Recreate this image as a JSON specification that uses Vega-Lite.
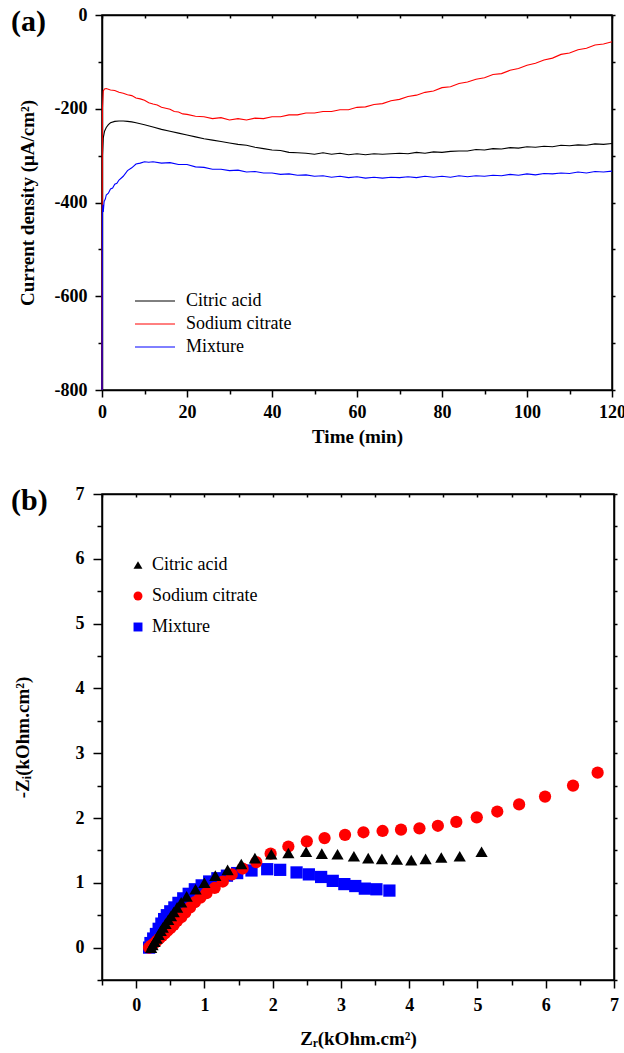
{
  "$schema": "https://vega.github.io/schema/vega-lite/v6.json",
  "padding": {"left": 10, "top": 5, "right": 2, "bottom": 2},
  "autosize": {"type": "pad"},
  "background": "white",
  "spacing": 104,
  "bounds": "flush",
  "resolve": {"scale": {"color": "independent", "shape": "independent"}, "legend": {"color": "independent", "shape": "independent"}},
  "config": {
    "font": "Liberation Serif",
    "view": {"stroke": "black", "strokeWidth": 1.5},
    "axis": {"grid": false, "domainColor": "black", "domainWidth": 1.5, "tickColor": "black", "tickWidth": 1.5, "labelFont": "Liberation Serif", "labelFontSize": 18, "labelFontWeight": "bold", "labelColor": "black", "titleFont": "Liberation Serif", "titleFontSize": 19, "titleFontWeight": "bold", "titleColor": "black", "labelFlush": false, "labelOverlap": false, "labelBound": false},
    "legend": {"labelFont": "Liberation Serif", "labelFontSize": 18, "labelColor": "black", "padding": 0, "title": null},
    "title": {"font": "Liberation Serif", "fontSize": 30, "fontWeight": "bold", "color": "black", "anchor": "start", "frame": "group", "offset": 0, "dx": -91, "dy": 35, "baseline": "alphabetic"}
  },
  "vconcat": [
    {
      "width": 510,
      "height": 375,
      "title": {"text": "(a)"},
      "data": {"values": [
        {"series": "Citric acid", "time": 0, "current": -800},
        {"series": "Citric acid", "time": 0.1, "current": -300},
        {"series": "Citric acid", "time": 0.3, "current": -262},
        {"series": "Citric acid", "time": 0.6, "current": -248},
        {"series": "Citric acid", "time": 1, "current": -240},
        {"series": "Citric acid", "time": 1.5, "current": -234},
        {"series": "Citric acid", "time": 2, "current": -230},
        {"series": "Citric acid", "time": 3, "current": -227},
        {"series": "Citric acid", "time": 4, "current": -226},
        {"series": "Citric acid", "time": 5, "current": -226},
        {"series": "Citric acid", "time": 6, "current": -227},
        {"series": "Citric acid", "time": 7, "current": -228},
        {"series": "Citric acid", "time": 8, "current": -230},
        {"series": "Citric acid", "time": 10, "current": -234},
        {"series": "Citric acid", "time": 12, "current": -239},
        {"series": "Citric acid", "time": 14, "current": -244},
        {"series": "Citric acid", "time": 16, "current": -248},
        {"series": "Citric acid", "time": 18, "current": -252},
        {"series": "Citric acid", "time": 20, "current": -256},
        {"series": "Citric acid", "time": 22, "current": -260},
        {"series": "Citric acid", "time": 24, "current": -264},
        {"series": "Citric acid", "time": 26, "current": -267},
        {"series": "Citric acid", "time": 28, "current": -270},
        {"series": "Citric acid", "time": 30, "current": -273},
        {"series": "Citric acid", "time": 32, "current": -276},
        {"series": "Citric acid", "time": 34, "current": -278},
        {"series": "Citric acid", "time": 36, "current": -282},
        {"series": "Citric acid", "time": 38, "current": -285},
        {"series": "Citric acid", "time": 40, "current": -288},
        {"series": "Citric acid", "time": 42, "current": -289},
        {"series": "Citric acid", "time": 44, "current": -293},
        {"series": "Citric acid", "time": 46, "current": -294},
        {"series": "Citric acid", "time": 48, "current": -295},
        {"series": "Citric acid", "time": 50, "current": -297},
        {"series": "Citric acid", "time": 52, "current": -294},
        {"series": "Citric acid", "time": 54, "current": -297},
        {"series": "Citric acid", "time": 56, "current": -295},
        {"series": "Citric acid", "time": 58, "current": -298},
        {"series": "Citric acid", "time": 60, "current": -296},
        {"series": "Citric acid", "time": 62, "current": -298},
        {"series": "Citric acid", "time": 64, "current": -296},
        {"series": "Citric acid", "time": 66, "current": -297},
        {"series": "Citric acid", "time": 68, "current": -296},
        {"series": "Citric acid", "time": 70, "current": -295},
        {"series": "Citric acid", "time": 72, "current": -296},
        {"series": "Citric acid", "time": 74, "current": -293},
        {"series": "Citric acid", "time": 76, "current": -295},
        {"series": "Citric acid", "time": 78, "current": -292},
        {"series": "Citric acid", "time": 80, "current": -293},
        {"series": "Citric acid", "time": 82, "current": -291},
        {"series": "Citric acid", "time": 84, "current": -290},
        {"series": "Citric acid", "time": 86, "current": -290},
        {"series": "Citric acid", "time": 88, "current": -287},
        {"series": "Citric acid", "time": 90, "current": -288},
        {"series": "Citric acid", "time": 92, "current": -285},
        {"series": "Citric acid", "time": 94, "current": -286},
        {"series": "Citric acid", "time": 96, "current": -283},
        {"series": "Citric acid", "time": 98, "current": -284},
        {"series": "Citric acid", "time": 100, "current": -281},
        {"series": "Citric acid", "time": 102, "current": -282},
        {"series": "Citric acid", "time": 104, "current": -280},
        {"series": "Citric acid", "time": 106, "current": -281},
        {"series": "Citric acid", "time": 108, "current": -278},
        {"series": "Citric acid", "time": 110, "current": -279},
        {"series": "Citric acid", "time": 112, "current": -277},
        {"series": "Citric acid", "time": 114, "current": -278},
        {"series": "Citric acid", "time": 116, "current": -275},
        {"series": "Citric acid", "time": 118, "current": -276},
        {"series": "Citric acid", "time": 120, "current": -274},
        {"series": "Sodium citrate", "time": 0, "current": -800},
        {"series": "Sodium citrate", "time": 0.05, "current": -430},
        {"series": "Sodium citrate", "time": 0.1, "current": -200},
        {"series": "Sodium citrate", "time": 0.3, "current": -162},
        {"series": "Sodium citrate", "time": 0.6, "current": -158},
        {"series": "Sodium citrate", "time": 1, "current": -157},
        {"series": "Sodium citrate", "time": 2, "current": -160},
        {"series": "Sodium citrate", "time": 3, "current": -161},
        {"series": "Sodium citrate", "time": 4, "current": -165},
        {"series": "Sodium citrate", "time": 5, "current": -167},
        {"series": "Sodium citrate", "time": 6, "current": -170},
        {"series": "Sodium citrate", "time": 7, "current": -172},
        {"series": "Sodium citrate", "time": 8, "current": -177},
        {"series": "Sodium citrate", "time": 9, "current": -179},
        {"series": "Sodium citrate", "time": 10, "current": -182},
        {"series": "Sodium citrate", "time": 11, "current": -187},
        {"series": "Sodium citrate", "time": 12, "current": -190},
        {"series": "Sodium citrate", "time": 13, "current": -192},
        {"series": "Sodium citrate", "time": 14, "current": -197},
        {"series": "Sodium citrate", "time": 15, "current": -199},
        {"series": "Sodium citrate", "time": 16, "current": -201},
        {"series": "Sodium citrate", "time": 17, "current": -206},
        {"series": "Sodium citrate", "time": 18, "current": -207},
        {"series": "Sodium citrate", "time": 19, "current": -211},
        {"series": "Sodium citrate", "time": 20, "current": -212},
        {"series": "Sodium citrate", "time": 22, "current": -216},
        {"series": "Sodium citrate", "time": 24, "current": -217},
        {"series": "Sodium citrate", "time": 26, "current": -221},
        {"series": "Sodium citrate", "time": 28, "current": -219},
        {"series": "Sodium citrate", "time": 30, "current": -224},
        {"series": "Sodium citrate", "time": 32, "current": -221},
        {"series": "Sodium citrate", "time": 34, "current": -224},
        {"series": "Sodium citrate", "time": 36, "current": -220},
        {"series": "Sodium citrate", "time": 38, "current": -221},
        {"series": "Sodium citrate", "time": 40, "current": -217},
        {"series": "Sodium citrate", "time": 42, "current": -217},
        {"series": "Sodium citrate", "time": 44, "current": -213},
        {"series": "Sodium citrate", "time": 46, "current": -213},
        {"series": "Sodium citrate", "time": 48, "current": -209},
        {"series": "Sodium citrate", "time": 50, "current": -209},
        {"series": "Sodium citrate", "time": 52, "current": -206},
        {"series": "Sodium citrate", "time": 54, "current": -206},
        {"series": "Sodium citrate", "time": 56, "current": -202},
        {"series": "Sodium citrate", "time": 58, "current": -202},
        {"series": "Sodium citrate", "time": 60, "current": -197},
        {"series": "Sodium citrate", "time": 62, "current": -196},
        {"series": "Sodium citrate", "time": 64, "current": -191},
        {"series": "Sodium citrate", "time": 66, "current": -189},
        {"series": "Sodium citrate", "time": 68, "current": -183},
        {"series": "Sodium citrate", "time": 70, "current": -180},
        {"series": "Sodium citrate", "time": 72, "current": -174},
        {"series": "Sodium citrate", "time": 74, "current": -171},
        {"series": "Sodium citrate", "time": 76, "current": -165},
        {"series": "Sodium citrate", "time": 78, "current": -162},
        {"series": "Sodium citrate", "time": 80, "current": -155},
        {"series": "Sodium citrate", "time": 82, "current": -153},
        {"series": "Sodium citrate", "time": 84, "current": -146},
        {"series": "Sodium citrate", "time": 86, "current": -143},
        {"series": "Sodium citrate", "time": 88, "current": -137},
        {"series": "Sodium citrate", "time": 90, "current": -134},
        {"series": "Sodium citrate", "time": 92, "current": -127},
        {"series": "Sodium citrate", "time": 94, "current": -125},
        {"series": "Sodium citrate", "time": 96, "current": -118},
        {"series": "Sodium citrate", "time": 98, "current": -114},
        {"series": "Sodium citrate", "time": 100, "current": -107},
        {"series": "Sodium citrate", "time": 102, "current": -103},
        {"series": "Sodium citrate", "time": 104, "current": -96},
        {"series": "Sodium citrate", "time": 106, "current": -92},
        {"series": "Sodium citrate", "time": 108, "current": -84},
        {"series": "Sodium citrate", "time": 110, "current": -81},
        {"series": "Sodium citrate", "time": 112, "current": -74},
        {"series": "Sodium citrate", "time": 114, "current": -71},
        {"series": "Sodium citrate", "time": 116, "current": -64},
        {"series": "Sodium citrate", "time": 118, "current": -62},
        {"series": "Sodium citrate", "time": 120, "current": -57},
        {"series": "Mixture", "time": 0, "current": -800},
        {"series": "Mixture", "time": 0.1, "current": -425},
        {"series": "Mixture", "time": 0.2, "current": -405},
        {"series": "Mixture", "time": 0.3, "current": -420},
        {"series": "Mixture", "time": 0.5, "current": -398},
        {"series": "Mixture", "time": 0.8, "current": -392},
        {"series": "Mixture", "time": 1, "current": -384},
        {"series": "Mixture", "time": 1.5, "current": -380},
        {"series": "Mixture", "time": 2, "current": -371},
        {"series": "Mixture", "time": 2.5, "current": -369},
        {"series": "Mixture", "time": 3, "current": -361},
        {"series": "Mixture", "time": 3.5, "current": -359},
        {"series": "Mixture", "time": 4, "current": -352},
        {"series": "Mixture", "time": 5, "current": -344},
        {"series": "Mixture", "time": 6, "current": -332},
        {"series": "Mixture", "time": 7, "current": -326},
        {"series": "Mixture", "time": 8, "current": -318},
        {"series": "Mixture", "time": 9, "current": -316},
        {"series": "Mixture", "time": 10, "current": -313},
        {"series": "Mixture", "time": 11, "current": -314},
        {"series": "Mixture", "time": 12, "current": -313},
        {"series": "Mixture", "time": 14, "current": -316},
        {"series": "Mixture", "time": 16, "current": -315},
        {"series": "Mixture", "time": 18, "current": -319},
        {"series": "Mixture", "time": 20, "current": -319},
        {"series": "Mixture", "time": 22, "current": -324},
        {"series": "Mixture", "time": 24, "current": -325},
        {"series": "Mixture", "time": 26, "current": -329},
        {"series": "Mixture", "time": 28, "current": -329},
        {"series": "Mixture", "time": 30, "current": -332},
        {"series": "Mixture", "time": 32, "current": -331},
        {"series": "Mixture", "time": 34, "current": -335},
        {"series": "Mixture", "time": 36, "current": -334},
        {"series": "Mixture", "time": 38, "current": -337},
        {"series": "Mixture", "time": 40, "current": -337},
        {"series": "Mixture", "time": 42, "current": -340},
        {"series": "Mixture", "time": 44, "current": -339},
        {"series": "Mixture", "time": 46, "current": -342},
        {"series": "Mixture", "time": 48, "current": -341},
        {"series": "Mixture", "time": 50, "current": -344},
        {"series": "Mixture", "time": 52, "current": -343},
        {"series": "Mixture", "time": 54, "current": -346},
        {"series": "Mixture", "time": 56, "current": -344},
        {"series": "Mixture", "time": 58, "current": -347},
        {"series": "Mixture", "time": 60, "current": -345},
        {"series": "Mixture", "time": 62, "current": -348},
        {"series": "Mixture", "time": 64, "current": -346},
        {"series": "Mixture", "time": 66, "current": -348},
        {"series": "Mixture", "time": 68, "current": -346},
        {"series": "Mixture", "time": 70, "current": -347},
        {"series": "Mixture", "time": 72, "current": -345},
        {"series": "Mixture", "time": 74, "current": -347},
        {"series": "Mixture", "time": 76, "current": -344},
        {"series": "Mixture", "time": 78, "current": -346},
        {"series": "Mixture", "time": 80, "current": -344},
        {"series": "Mixture", "time": 82, "current": -346},
        {"series": "Mixture", "time": 84, "current": -343},
        {"series": "Mixture", "time": 86, "current": -345},
        {"series": "Mixture", "time": 88, "current": -343},
        {"series": "Mixture", "time": 90, "current": -344},
        {"series": "Mixture", "time": 92, "current": -342},
        {"series": "Mixture", "time": 94, "current": -343},
        {"series": "Mixture", "time": 96, "current": -340},
        {"series": "Mixture", "time": 98, "current": -342},
        {"series": "Mixture", "time": 100, "current": -339},
        {"series": "Mixture", "time": 102, "current": -341},
        {"series": "Mixture", "time": 104, "current": -338},
        {"series": "Mixture", "time": 106, "current": -339},
        {"series": "Mixture", "time": 108, "current": -337},
        {"series": "Mixture", "time": 110, "current": -338},
        {"series": "Mixture", "time": 112, "current": -335},
        {"series": "Mixture", "time": 114, "current": -337},
        {"series": "Mixture", "time": 116, "current": -334},
        {"series": "Mixture", "time": 118, "current": -335},
        {"series": "Mixture", "time": 120, "current": -333}
      ]},
      "layer": [
        {
          "mark": {"type": "line", "strokeWidth": 1.1},
          "encoding": {
            "x": {"field": "time", "type": "quantitative", "scale": {"domain": [0, 120], "nice": false, "zero": false},
              "axis": {"title": "Time (min)", "values": [0, 10, 20, 30, 40, 50, 60, 70, 80, 90, 100, 110, 120],
                "labelExpr": "datum.value % 20 === 0 ? '' + datum.value : ''",
                "tickSize": {"condition": {"test": "datum.value % 20 === 0", "value": 7}, "value": 4},
                "labelPadding": 6, "titlePadding": 6}},
            "y": {"field": "current", "type": "quantitative", "scale": {"domain": [-800, 0], "nice": false, "zero": false},
              "axis": {"title": "Current density (μA/cm²)", "values": [-800, -700, -600, -500, -400, -300, -200, -100, 0],
                "labelExpr": "datum.value % 200 === 0 ? '' + datum.value : ''",
                "tickSize": {"condition": {"test": "datum.value % 200 === 0", "value": 7}, "value": 4},
                "labelPadding": 8, "titlePadding": 17}},
            "color": {"field": "series", "type": "nominal",
              "scale": {"domain": ["Citric acid", "Sodium citrate", "Mixture"], "range": ["#000000", "#ff0000", "#0000ff"]},
              "legend": {"orient": "none", "legendX": 44, "legendY": 277, "symbolType": "M-4,0H4", "symbolSize": 100, "symbolStrokeWidth": 1, "labelOffset": 22, "rowPadding": 5}}
          }
        },
        {
          "mark": {"type": "line", "opacity": 0},
          "encoding": {
            "x": {"field": "time", "type": "quantitative", "axis": {"orient": "top", "labels": false, "title": null, "values": [0, 10, 20, 30, 40, 50, 60, 70, 80, 90, 100, 110, 120], "tickSize": -3}},
            "y": {"field": "current", "type": "quantitative", "axis": {"orient": "right", "labels": false, "title": null, "values": [-800, -700, -600, -500, -400, -300, -200, -100, 0], "tickSize": 3}},
            "detail": {"field": "series"}
          }
        }
      ],
      "resolve": {"axis": {"x": "independent", "y": "independent"}}
    },
    {
      "width": 512,
      "height": 486,
      "title": {"text": "(b)"},
      "data": {"values": [
        {"series": "Mixture", "zr": 0.19, "zi": 0.0},
        {"series": "Mixture", "zr": 0.21, "zi": 0.07},
        {"series": "Mixture", "zr": 0.25, "zi": 0.14},
        {"series": "Mixture", "zr": 0.29, "zi": 0.21},
        {"series": "Mixture", "zr": 0.33, "zi": 0.29},
        {"series": "Mixture", "zr": 0.37, "zi": 0.37},
        {"series": "Mixture", "zr": 0.41, "zi": 0.44},
        {"series": "Mixture", "zr": 0.45, "zi": 0.50},
        {"series": "Mixture", "zr": 0.50, "zi": 0.56},
        {"series": "Mixture", "zr": 0.56, "zi": 0.62},
        {"series": "Mixture", "zr": 0.62, "zi": 0.69},
        {"series": "Mixture", "zr": 0.69, "zi": 0.76},
        {"series": "Mixture", "zr": 0.77, "zi": 0.83},
        {"series": "Mixture", "zr": 0.86, "zi": 0.90},
        {"series": "Mixture", "zr": 0.96, "zi": 0.96},
        {"series": "Mixture", "zr": 1.07, "zi": 1.02},
        {"series": "Mixture", "zr": 1.19, "zi": 1.07},
        {"series": "Mixture", "zr": 1.33, "zi": 1.11},
        {"series": "Mixture", "zr": 1.48, "zi": 1.15},
        {"series": "Mixture", "zr": 1.69, "zi": 1.19},
        {"series": "Mixture", "zr": 1.92, "zi": 1.21},
        {"series": "Mixture", "zr": 2.11, "zi": 1.20},
        {"series": "Mixture", "zr": 2.35, "zi": 1.16},
        {"series": "Mixture", "zr": 2.53, "zi": 1.13},
        {"series": "Mixture", "zr": 2.71, "zi": 1.09},
        {"series": "Mixture", "zr": 2.88, "zi": 1.03},
        {"series": "Mixture", "zr": 3.05, "zi": 0.98},
        {"series": "Mixture", "zr": 3.21, "zi": 0.95},
        {"series": "Mixture", "zr": 3.35, "zi": 0.91},
        {"series": "Mixture", "zr": 3.52, "zi": 0.90},
        {"series": "Mixture", "zr": 3.71, "zi": 0.88},
        {"series": "Sodium citrate", "zr": 0.19, "zi": 0.0},
        {"series": "Sodium citrate", "zr": 0.22, "zi": 0.03},
        {"series": "Sodium citrate", "zr": 0.26, "zi": 0.06},
        {"series": "Sodium citrate", "zr": 0.30, "zi": 0.10},
        {"series": "Sodium citrate", "zr": 0.34, "zi": 0.14},
        {"series": "Sodium citrate", "zr": 0.38, "zi": 0.18},
        {"series": "Sodium citrate", "zr": 0.42, "zi": 0.22},
        {"series": "Sodium citrate", "zr": 0.46, "zi": 0.26},
        {"series": "Sodium citrate", "zr": 0.50, "zi": 0.30},
        {"series": "Sodium citrate", "zr": 0.55, "zi": 0.35},
        {"series": "Sodium citrate", "zr": 0.60, "zi": 0.41},
        {"series": "Sodium citrate", "zr": 0.66, "zi": 0.47},
        {"series": "Sodium citrate", "zr": 0.72, "zi": 0.54},
        {"series": "Sodium citrate", "zr": 0.79, "zi": 0.62},
        {"series": "Sodium citrate", "zr": 0.86, "zi": 0.70},
        {"series": "Sodium citrate", "zr": 0.94, "zi": 0.77},
        {"series": "Sodium citrate", "zr": 1.03, "zi": 0.84},
        {"series": "Sodium citrate", "zr": 1.15, "zi": 0.92},
        {"series": "Sodium citrate", "zr": 1.27, "zi": 1.02},
        {"series": "Sodium citrate", "zr": 1.40, "zi": 1.13},
        {"series": "Sodium citrate", "zr": 1.56, "zi": 1.22},
        {"series": "Sodium citrate", "zr": 1.76, "zi": 1.32},
        {"series": "Sodium citrate", "zr": 1.97, "zi": 1.45},
        {"series": "Sodium citrate", "zr": 2.23, "zi": 1.56},
        {"series": "Sodium citrate", "zr": 2.50, "zi": 1.64},
        {"series": "Sodium citrate", "zr": 2.76, "zi": 1.69},
        {"series": "Sodium citrate", "zr": 3.06, "zi": 1.74},
        {"series": "Sodium citrate", "zr": 3.33, "zi": 1.78},
        {"series": "Sodium citrate", "zr": 3.61, "zi": 1.80},
        {"series": "Sodium citrate", "zr": 3.88, "zi": 1.82},
        {"series": "Sodium citrate", "zr": 4.15, "zi": 1.84},
        {"series": "Sodium citrate", "zr": 4.42, "zi": 1.88},
        {"series": "Sodium citrate", "zr": 4.69, "zi": 1.94},
        {"series": "Sodium citrate", "zr": 4.99, "zi": 2.01},
        {"series": "Sodium citrate", "zr": 5.29, "zi": 2.10},
        {"series": "Sodium citrate", "zr": 5.61, "zi": 2.21},
        {"series": "Sodium citrate", "zr": 5.99, "zi": 2.33},
        {"series": "Sodium citrate", "zr": 6.40, "zi": 2.50},
        {"series": "Sodium citrate", "zr": 6.76, "zi": 2.70},
        {"series": "Citric acid", "zr": 0.22, "zi": 0.0},
        {"series": "Citric acid", "zr": 0.24, "zi": 0.04},
        {"series": "Citric acid", "zr": 0.27, "zi": 0.09},
        {"series": "Citric acid", "zr": 0.30, "zi": 0.14},
        {"series": "Citric acid", "zr": 0.33, "zi": 0.20},
        {"series": "Citric acid", "zr": 0.36, "zi": 0.26},
        {"series": "Citric acid", "zr": 0.39, "zi": 0.31},
        {"series": "Citric acid", "zr": 0.43, "zi": 0.37},
        {"series": "Citric acid", "zr": 0.47, "zi": 0.43},
        {"series": "Citric acid", "zr": 0.51, "zi": 0.49},
        {"series": "Citric acid", "zr": 0.55, "zi": 0.55},
        {"series": "Citric acid", "zr": 0.60, "zi": 0.62},
        {"series": "Citric acid", "zr": 0.66, "zi": 0.70},
        {"series": "Citric acid", "zr": 0.74, "zi": 0.79},
        {"series": "Citric acid", "zr": 0.87, "zi": 0.90},
        {"series": "Citric acid", "zr": 1.00, "zi": 1.00},
        {"series": "Citric acid", "zr": 1.16, "zi": 1.11},
        {"series": "Citric acid", "zr": 1.34, "zi": 1.20},
        {"series": "Citric acid", "zr": 1.54, "zi": 1.29},
        {"series": "Citric acid", "zr": 1.74, "zi": 1.38},
        {"series": "Citric acid", "zr": 1.98, "zi": 1.44},
        {"series": "Citric acid", "zr": 2.23, "zi": 1.46},
        {"series": "Citric acid", "zr": 2.49, "zi": 1.48},
        {"series": "Citric acid", "zr": 2.72, "zi": 1.45},
        {"series": "Citric acid", "zr": 2.95, "zi": 1.44},
        {"series": "Citric acid", "zr": 3.19, "zi": 1.41},
        {"series": "Citric acid", "zr": 3.40, "zi": 1.38},
        {"series": "Citric acid", "zr": 3.60, "zi": 1.37},
        {"series": "Citric acid", "zr": 3.82, "zi": 1.36},
        {"series": "Citric acid", "zr": 4.03, "zi": 1.35},
        {"series": "Citric acid", "zr": 4.24, "zi": 1.37},
        {"series": "Citric acid", "zr": 4.47, "zi": 1.39},
        {"series": "Citric acid", "zr": 4.74, "zi": 1.41},
        {"series": "Citric acid", "zr": 5.06, "zi": 1.48}
      ]},
      "layer": [
        {
          "mark": {"type": "point", "filled": true, "opacity": 1, "size": 150, "strokeWidth": 0},
          "encoding": {
            "x": {"field": "zr", "type": "quantitative", "scale": {"domain": [-0.5, 7], "nice": false, "zero": false},
              "axis": {"title": "Zᵣ(kOhm.cm²)", "values": [-0.5, 0, 0.5, 1, 1.5, 2, 2.5, 3, 3.5, 4, 4.5, 5, 5.5, 6, 6.5, 7],
                "labelExpr": "datum.value % 1 === 0 ? '' + datum.value : ''",
                "tickSize": {"condition": {"test": "datum.value % 1 === 0", "value": 8}, "value": 5},
                "labelPadding": 8, "titlePadding": 15}},
            "y": {"field": "zi", "type": "quantitative", "scale": {"domain": [-0.5, 7], "nice": false, "zero": false},
              "axis": {"title": "-Zᵢ(kOhm.cm²)", "values": [-0.5, 0, 0.5, 1, 1.5, 2, 2.5, 3, 3.5, 4, 4.5, 5, 5.5, 6, 6.5, 7],
                "labelExpr": "datum.value % 1 === 0 ? '' + datum.value : ''",
                "tickSize": {"condition": {"test": "datum.value % 1 === 0", "value": 9}, "value": 5},
                "labelPadding": 9, "titlePadding": 43}},
            "color": {"field": "series", "type": "nominal",
              "scale": {"domain": ["Citric acid", "Sodium citrate", "Mixture"], "range": ["#000000", "#ff0000", "#0000ff"]},
              "legend": {"orient": "none", "legendX": 27, "legendY": 62, "symbolSize": 80, "labelOffset": 5, "rowPadding": 13}},
            "shape": {"field": "series", "type": "nominal",
              "scale": {"domain": ["Citric acid", "Sodium citrate", "Mixture"], "range": ["triangle-up", "circle", "square"]},
              "legend": {"orient": "none", "legendX": 27, "legendY": 62, "symbolSize": 80, "labelOffset": 5, "rowPadding": 13}}
          }
        },
        {
          "mark": {"type": "point", "opacity": 0},
          "encoding": {
            "x": {"field": "zr", "type": "quantitative", "axis": {"orient": "top", "labels": false, "title": null, "values": [-0.5, 0, 0.5, 1, 1.5, 2, 2.5, 3, 3.5, 4, 4.5, 5, 5.5, 6, 6.5, 7], "tickSize": -3}},
            "y": {"field": "zi", "type": "quantitative", "axis": {"orient": "right", "labels": false, "title": null, "values": [-0.5, 0, 0.5, 1, 1.5, 2, 2.5, 3, 3.5, 4, 4.5, 5, 5.5, 6, 6.5, 7], "tickSize": 3}}
          }
        }
      ],
      "resolve": {"axis": {"x": "independent", "y": "independent"}}
    }
  ]
}
